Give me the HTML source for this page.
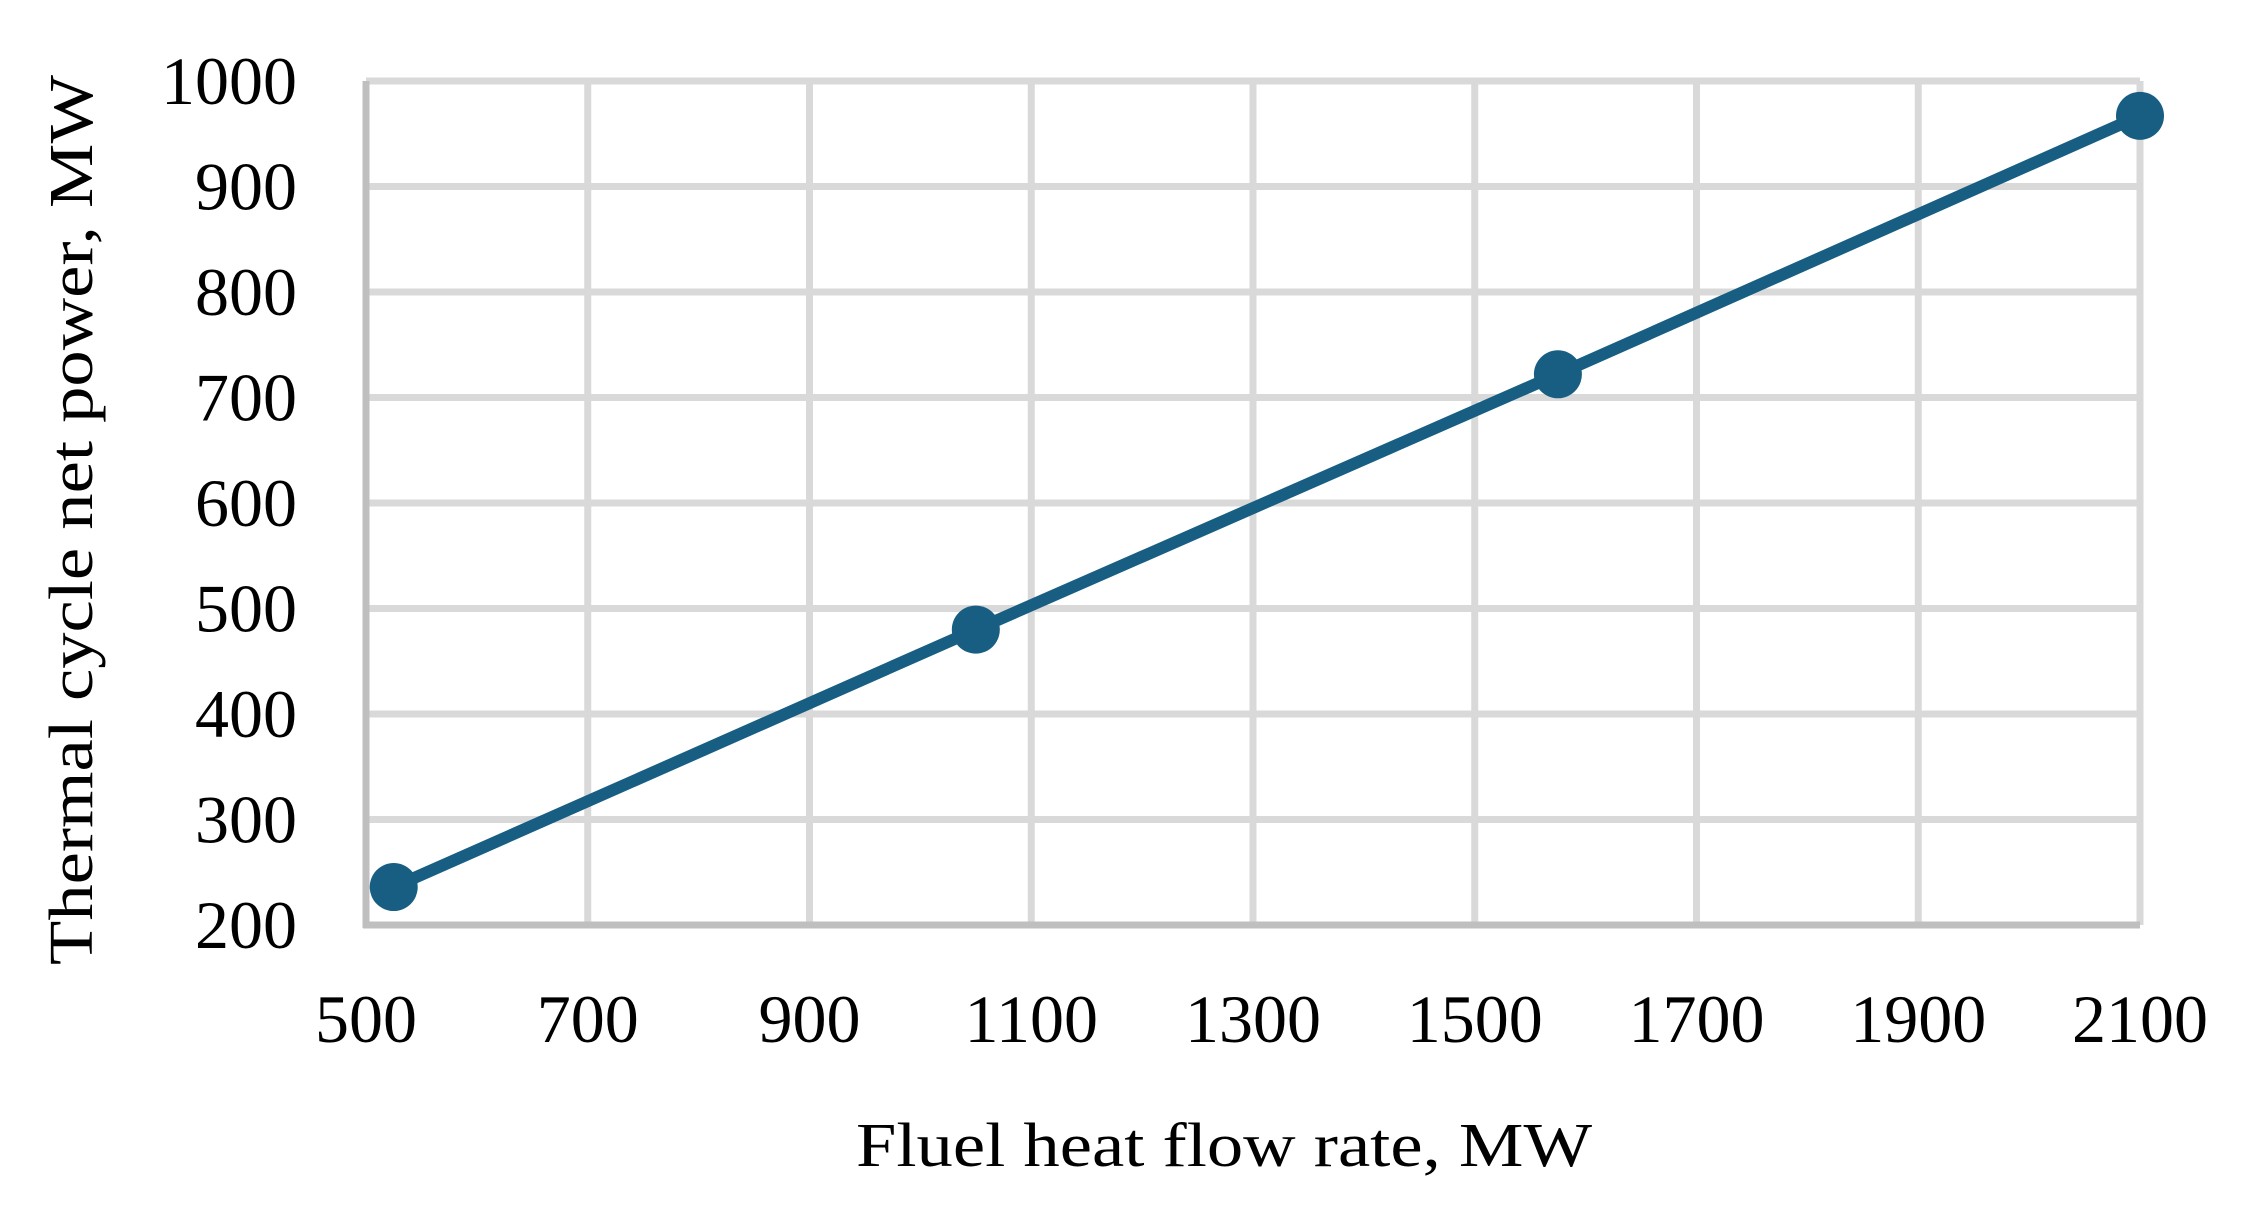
<!DOCTYPE html>
<html><head><meta charset="utf-8"><style>
html,body{margin:0;padding:0;background:#fff;}
svg{display:block;}
text{font-family:"Liberation Serif",serif;fill:#000;}
</style></head><body>
<svg id="chart" width="2243" height="1209" viewBox="0 0 2243 1209" xmlns="http://www.w3.org/2000/svg">
<g id="grid"></g>
<g id="axes"></g>
<g id="series"></g>
<g id="labels"></g>
<text transform="translate(92,520) rotate(-90)" text-anchor="middle" font-size="62" textLength="890" lengthAdjust="spacingAndGlyphs">Thermal cycle net power, MW</text>
<text x="1224" y="1166" text-anchor="middle" font-size="62" textLength="736" lengthAdjust="spacingAndGlyphs">Fluel heat flow rate, MW</text>
</svg>
<script>
const xTicks = [500, 700, 900, 1100, 1300, 1500, 1700, 1900, 2100];
const yTicks = [200, 300, 400, 500, 600, 700, 800, 900, 1000];
const fuelHeat = [525, 1050, 1575, 2100];
const netPower = [236, 480, 722, 967];

const L = 366, R = 2140, T = 81, B = 925;
const xMin = 500, xMax = 2100, yMin = 200, yMax = 1000;
const sx = v => L + (v - xMin) / (xMax - xMin) * (R - L);
const sy = v => B - (v - yMin) / (yMax - yMin) * (B - T);
const NS = 'http://www.w3.org/2000/svg';
function mk(tag, parent) { const e = document.createElementNS(NS, tag); parent.appendChild(e); return e; }

const grid = document.getElementById('grid');
const labels = document.getElementById('labels');
yTicks.forEach(v => {
  const l = mk('line', grid);
  
  
  l.setAttribute('x1', L); l.setAttribute('x2', R);
  l.setAttribute('y1', sy(v)); l.setAttribute('y2', sy(v));
  l.setAttribute('stroke', '#d9d9d9'); l.setAttribute('stroke-width', 7);
  const t = mk('text', labels);
  
  
  t.setAttribute('x', 297); t.setAttribute('y', sy(v) + 23);
  t.setAttribute('text-anchor', 'end'); t.setAttribute('font-size', 68);
  t.textContent = v;
});
xTicks.forEach(v => {
  const l = mk('line', grid);
  
  
  l.setAttribute('x1', sx(v)); l.setAttribute('x2', sx(v));
  l.setAttribute('y1', T); l.setAttribute('y2', B);
  l.setAttribute('stroke', '#d9d9d9'); l.setAttribute('stroke-width', 7);
  const t = mk('text', labels);
  
  
  t.setAttribute('x', sx(v)); t.setAttribute('y', 1042);
  t.setAttribute('text-anchor', 'middle'); t.setAttribute('font-size', 68);
  t.textContent = v;
});
const axes = document.getElementById('axes');
const ya = mk('line', axes);


ya.setAttribute('x1', L); ya.setAttribute('x2', L); ya.setAttribute('y1', T); ya.setAttribute('y2', B + 3);
ya.setAttribute('stroke', '#bfbfbf'); ya.setAttribute('stroke-width', 7);
const xa = mk('line', axes);


xa.setAttribute('x1', L - 3); xa.setAttribute('x2', R); xa.setAttribute('y1', B); xa.setAttribute('y2', B);
xa.setAttribute('stroke', '#bfbfbf'); xa.setAttribute('stroke-width', 7);

const series = document.getElementById('series');
const pl = mk('polyline', series);


pl.setAttribute('points', fuelHeat.map((x, i) => sx(x) + ',' + sy(netPower[i])).join(' '));
pl.setAttribute('fill', 'none'); pl.setAttribute('stroke', '#175e82'); pl.setAttribute('stroke-width', 12);
fuelHeat.forEach((x, i) => {
  const c = mk('circle', series);
  
  
  c.setAttribute('cx', sx(x)); c.setAttribute('cy', sy(netPower[i])); c.setAttribute('r', 24);
  c.setAttribute('fill', '#175e82');
});
</script>
</body></html>
